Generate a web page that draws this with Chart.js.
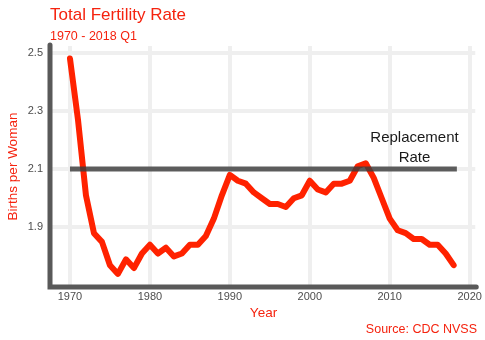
<!DOCTYPE html>
<html>
<head>
<meta charset="utf-8">
<title>Total Fertility Rate</title>
<script src="https://cdn.jsdelivr.net/npm/chart.js@4.4.1/dist/chart.umd.min.js"></script>
<style>
  html, body { margin: 0; padding: 0; background: #fff; }
  canvas { display: block; }
</style>
</head>
<body>
<canvas id="tfrChart" width="485" height="340"></canvas>
<script>
// US total fertility rate, births per woman
const years = [
  1970, 1971, 1972, 1973, 1974, 1975, 1976, 1977, 1978, 1979,
  1980, 1981, 1982, 1983, 1984, 1985, 1986, 1987, 1988, 1989,
  1990, 1991, 1992, 1993, 1994, 1995, 1996, 1997, 1998, 1999,
  2000, 2001, 2002, 2003, 2004, 2005, 2006, 2007, 2008, 2009,
  2010, 2011, 2012, 2013, 2014, 2015, 2016, 2017, 2018
];
const tfr = [
  2.48, 2.27, 2.01, 1.88, 1.85, 1.77, 1.74, 1.79, 1.76, 1.81,
  1.84, 1.81, 1.83, 1.80, 1.81, 1.84, 1.84, 1.87, 1.93, 2.01,
  2.08, 2.06, 2.05, 2.02, 2.00, 1.98, 1.98, 1.97, 2.00, 2.01,
  2.06, 2.03, 2.02, 2.05, 2.05, 2.06, 2.11, 2.12, 2.07, 2.00,
  1.93, 1.89, 1.88, 1.86, 1.86, 1.84, 1.84, 1.81, 1.77
];
const replacementRate = 2.1;
const replacementSpan = [1970, 2018.4];

const xTicks = [1970, 1980, 1990, 2000, 2010, 2020];
const yTicks = [1.9, 2.1, 2.3, 2.5];

const family = '"Liberation Sans", Arial, Helvetica, sans-serif';
const red = '#f5230f';

// titles, axis titles, source note, axis lines and the replacement label
const decor = {
  id: 'decor',
  beforeDatasetsDraw(chart) {
    const { ctx, chartArea: a } = chart;
    ctx.save();
    ctx.strokeStyle = '#595959';
    ctx.lineWidth = 5;
    ctx.lineCap = 'round';
    ctx.beginPath();
    ctx.moveTo(a.left, a.top - 1);
    ctx.lineTo(a.left, a.bottom);
    ctx.lineTo(a.right + 1, a.bottom);
    ctx.stroke();
    ctx.restore();
  },
  afterDraw(chart) {
    const { ctx, chartArea: a, scales } = chart;
    ctx.save();
    ctx.fillStyle = red;
    ctx.textAlign = 'left';
    ctx.textBaseline = 'alphabetic';
    ctx.font = '17px ' + family;
    ctx.fillText('Total Fertility Rate', a.left, 20);
    ctx.font = '12.5px ' + family;
    ctx.fillText('1970 - 2018 Q1', a.left, 40);

    ctx.font = '13.5px ' + family;
    ctx.textAlign = 'center';
    ctx.fillText('Year', 263.5, 317);
    ctx.save();
    ctx.translate(16.5, (a.top + a.bottom) / 2);
    ctx.rotate(-Math.PI / 2);
    ctx.fillText('Births per Woman', 0, 0);
    ctx.restore();

    ctx.font = '12.5px ' + family;
    ctx.textAlign = 'right';
    ctx.fillText('Source: CDC NVSS', 477, 333);

    const lx = scales.x.getPixelForValue(2013.1);
    const ly = scales.y.getPixelForValue(replacementRate);
    ctx.fillStyle = '#1a1a1a';
    ctx.font = '15px ' + family;
    ctx.textAlign = 'center';
    ctx.fillText('Replacement', lx, ly - 27);
    ctx.fillText('Rate', lx, ly - 7);
    ctx.restore();
  }
};

const ctx = document.getElementById('tfrChart').getContext('2d');
new Chart(ctx, {
  type: 'line',
  data: {
    datasets: [
      {
        label: 'Replacement Rate',
        data: replacementSpan.map((x) => ({ x, y: replacementRate })),
        borderColor: 'rgba(60, 60, 60, 0.82)',
        borderWidth: 5,
        borderCapStyle: 'butt',
        pointRadius: 0,
        order: 0,
      },
      {
        label: 'Total Fertility Rate',
        data: years.map((x, i) => ({ x, y: tfr[i] })),
        borderColor: '#ff2200',
        borderWidth: 6,
        borderJoinStyle: 'round',
        borderCapStyle: 'round',
        pointRadius: 0,
        tension: 0,
        order: 1,
      },
    ],
  },
  options: {
    responsive: false,
    animation: false,
    layout: { padding: { top: 46, right: 8, left: 0, bottom: 0 } },
    plugins: {
      legend: { display: false },
      tooltip: { enabled: false },
    },
    scales: {
      x: {
        type: 'linear',
        min: 1967.5,
        max: 2020.7,
        afterBuildTicks: (s) => { s.ticks = xTicks.map((v) => ({ value: v })); },
        afterFit: (s) => { s.height = 53; },
        grid: { color: '#efefef', lineWidth: 4, drawTicks: false },
        border: { display: false },
        ticks: {
          padding: 3,
          color: '#4d4d4d',
          font: { family, size: 11 },
          maxRotation: 0,
          autoSkip: false,
          callback: (v) => String(v),
        },
      },
      y: {
        type: 'linear',
        min: 1.695,
        max: 2.523,
        afterBuildTicks: (s) => { s.ticks = yTicks.map((v) => ({ value: v })); },
        afterFit: (s) => { s.width = 50; },
        grid: { color: '#efefef', lineWidth: 4, drawTicks: false },
        border: { display: false },
        ticks: {
          padding: 7,
          color: '#4d4d4d',
          font: { family, size: 11 },
          autoSkip: false,
          callback: (v) => v.toFixed(1),
        },
      },
    },
  },
  plugins: [decor],
});
</script>
</body>
</html>
